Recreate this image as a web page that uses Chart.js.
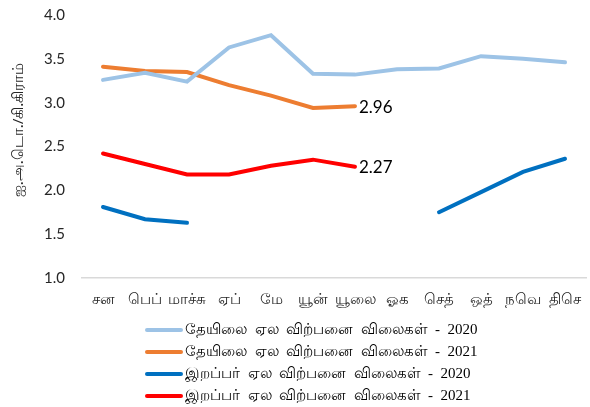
<!DOCTYPE html>
<html>
<head>
<meta charset="utf-8">
<script src="https://cdn.jsdelivr.net/npm/chart.js@4"></script>
<style>
  html, body { margin: 0; padding: 0; background: #fff; overflow: hidden; }
  #wrap { position: relative; width: 590px; height: 407px; overflow: hidden; }
  #c { position: absolute; left: 0; top: -3px; }
  #legend { position: absolute; left: 145px; top: 319px; font-family: 'Liberation Serif', 'Noto Sans', serif; font-size: 15px; color: #000; }
  .row { display: flex; align-items: center; height: 22px; white-space: pre; }
  .sw { width: 38px; height: 4px; margin-right: 2px; border-radius: 2px; }
</style>
</head>
<body>
<div id="wrap">
  <canvas id="c" width="590" height="410"></canvas>
  <div id="legend"></div>
</div>
<script>
const months = ['சன', 'பெப்', 'மாச்சு', 'ஏப்', 'மே', 'யூன்', 'யூலை', 'ஓக', 'செத்', 'ஒத்', 'நவெ', 'திசெ'];
const teaLabel2020 = 'தேயிலை  ஏல  விற்பனை  விலைகள்  -  2020';
const teaLabel2021 = 'தேயிலை  ஏல  விற்பனை  விலைகள்  -  2021';
const rubberLabel2020 = 'இறப்பர்  ஏல  விற்பனை  விலைகள்  -  2020';
const rubberLabel2021 = 'இறப்பர்  ஏல  விற்பனை  விலைகள்  -  2021';
const tea2020 = [3.26, 3.34, 3.24, 3.63, 3.77, 3.33, 3.32, 3.38, 3.39, 3.53, 3.50, 3.46];
const tea2021 = [3.41, 3.36, 3.35, 3.20, 3.08, 2.94, 2.96, null, null, null, null, null];
const rubber2020 = [1.81, 1.67, 1.63, null, null, null, null, null, 1.75, 1.98, 2.21, 2.36];
const rubber2021 = [2.42, 2.30, 2.18, 2.18, 2.28, 2.35, 2.27, null, null, null, null, null];
const yTicks = [1.0, 1.5, 2.0, 2.5, 3.0, 3.5, 4.0];
const yTitle = 'ஐ.அ.டொ./கி.கிராம்';

const colors = ['#9DC3E6', '#ED7D31', '#0070C0', '#FF0000'];
const labels = [teaLabel2020, teaLabel2021, rubberLabel2020, rubberLabel2021];
const series = [tea2020, tea2021, rubber2020, rubber2021];

const datasets = series.map((d, i) => ({
  label: labels[i],
  data: d,
  borderColor: colors[i],
  backgroundColor: colors[i],
  borderWidth: 4,
  pointRadius: 0,
  tension: 0,
  spanGaps: false,
  borderCapStyle: 'round'
}));

// data labels for last points of 2021 series
const endLabels = {
  id: 'endLabels',
  afterDatasetsDraw(chart) {
    const ctx = chart.ctx;
    [1, 3].forEach(di => {
      const data = chart.data.datasets[di].data;
      let idx = -1;
      for (let k = data.length - 1; k >= 0; k--) { if (data[k] !== null) { idx = k; break; } }
      if (idx < 0) return;
      const el = chart.getDatasetMeta(di).data[idx];
      ctx.save();
      ctx.font = '17px Lato, "Open Sans", sans-serif';
      ctx.fillStyle = '#000';
      ctx.textAlign = 'left';
      ctx.textBaseline = 'middle';
      ctx.fillText(data[idx].toFixed(2), el.x + 4, el.y + 1);
      ctx.restore();
    });
  }
};

// y-axis title, drawn rotated in the left margin (canvas is shifted up 3px)
const yTitlePlugin = {
  id: 'yTitlePlugin',
  afterDraw(chart) {
    const ctx = chart.ctx;
    ctx.save();
    ctx.translate(19, 133);
    ctx.rotate(-Math.PI / 2);
    ctx.font = '15px "Noto Sans", sans-serif';
    ctx.fillStyle = '#262626';
    ctx.textAlign = 'center';
    ctx.textBaseline = 'middle';
    ctx.fillText(yTitle, 0, 0);
    ctx.restore();
  }
};

new Chart(document.getElementById('c'), {
  type: 'line',
  data: { labels: months, datasets },
  options: {
    responsive: false,
    animation: false,
    layout: { padding: { top: 0, right: 4, bottom: 99, left: 0 } },
    plugins: {
      legend: { display: false },
      tooltip: { enabled: false }
    },
    scales: {
      x: {
        offset: true,
        grid: { display: false },
        border: { display: true, color: '#D9D9D9', width: 1.5 },
        ticks: { color: '#262626', font: { family: '"Noto Sans", sans-serif', size: 15 }, padding: 5, maxRotation: 0, autoSkip: false },
        afterFit(s) { s.height = 30; }
      },
      y: {
        min: 1, max: 4,
        afterBuildTicks(s) { s.ticks = yTicks.map(v => ({ value: v })); },
        grid: { display: false },
        border: { display: false },
        ticks: { color: '#262626', font: { family: 'Lato, sans-serif', size: 15 }, padding: 9, callback: v => Number(v).toFixed(1) },
        afterFit(s) { s.width = 82; }
      }
    }
  },
  plugins: [endLabels, yTitlePlugin]
});

const lg = document.getElementById('legend');
labels.forEach((t, i) => {
  const r = document.createElement('div');
  r.className = 'row';
  const sw = document.createElement('span');
  sw.className = 'sw';
  sw.style.background = colors[i];
  const tx = document.createElement('span');
  tx.textContent = t;
  r.appendChild(sw); r.appendChild(tx);
  lg.appendChild(r);
});
</script>
</body>
</html>
